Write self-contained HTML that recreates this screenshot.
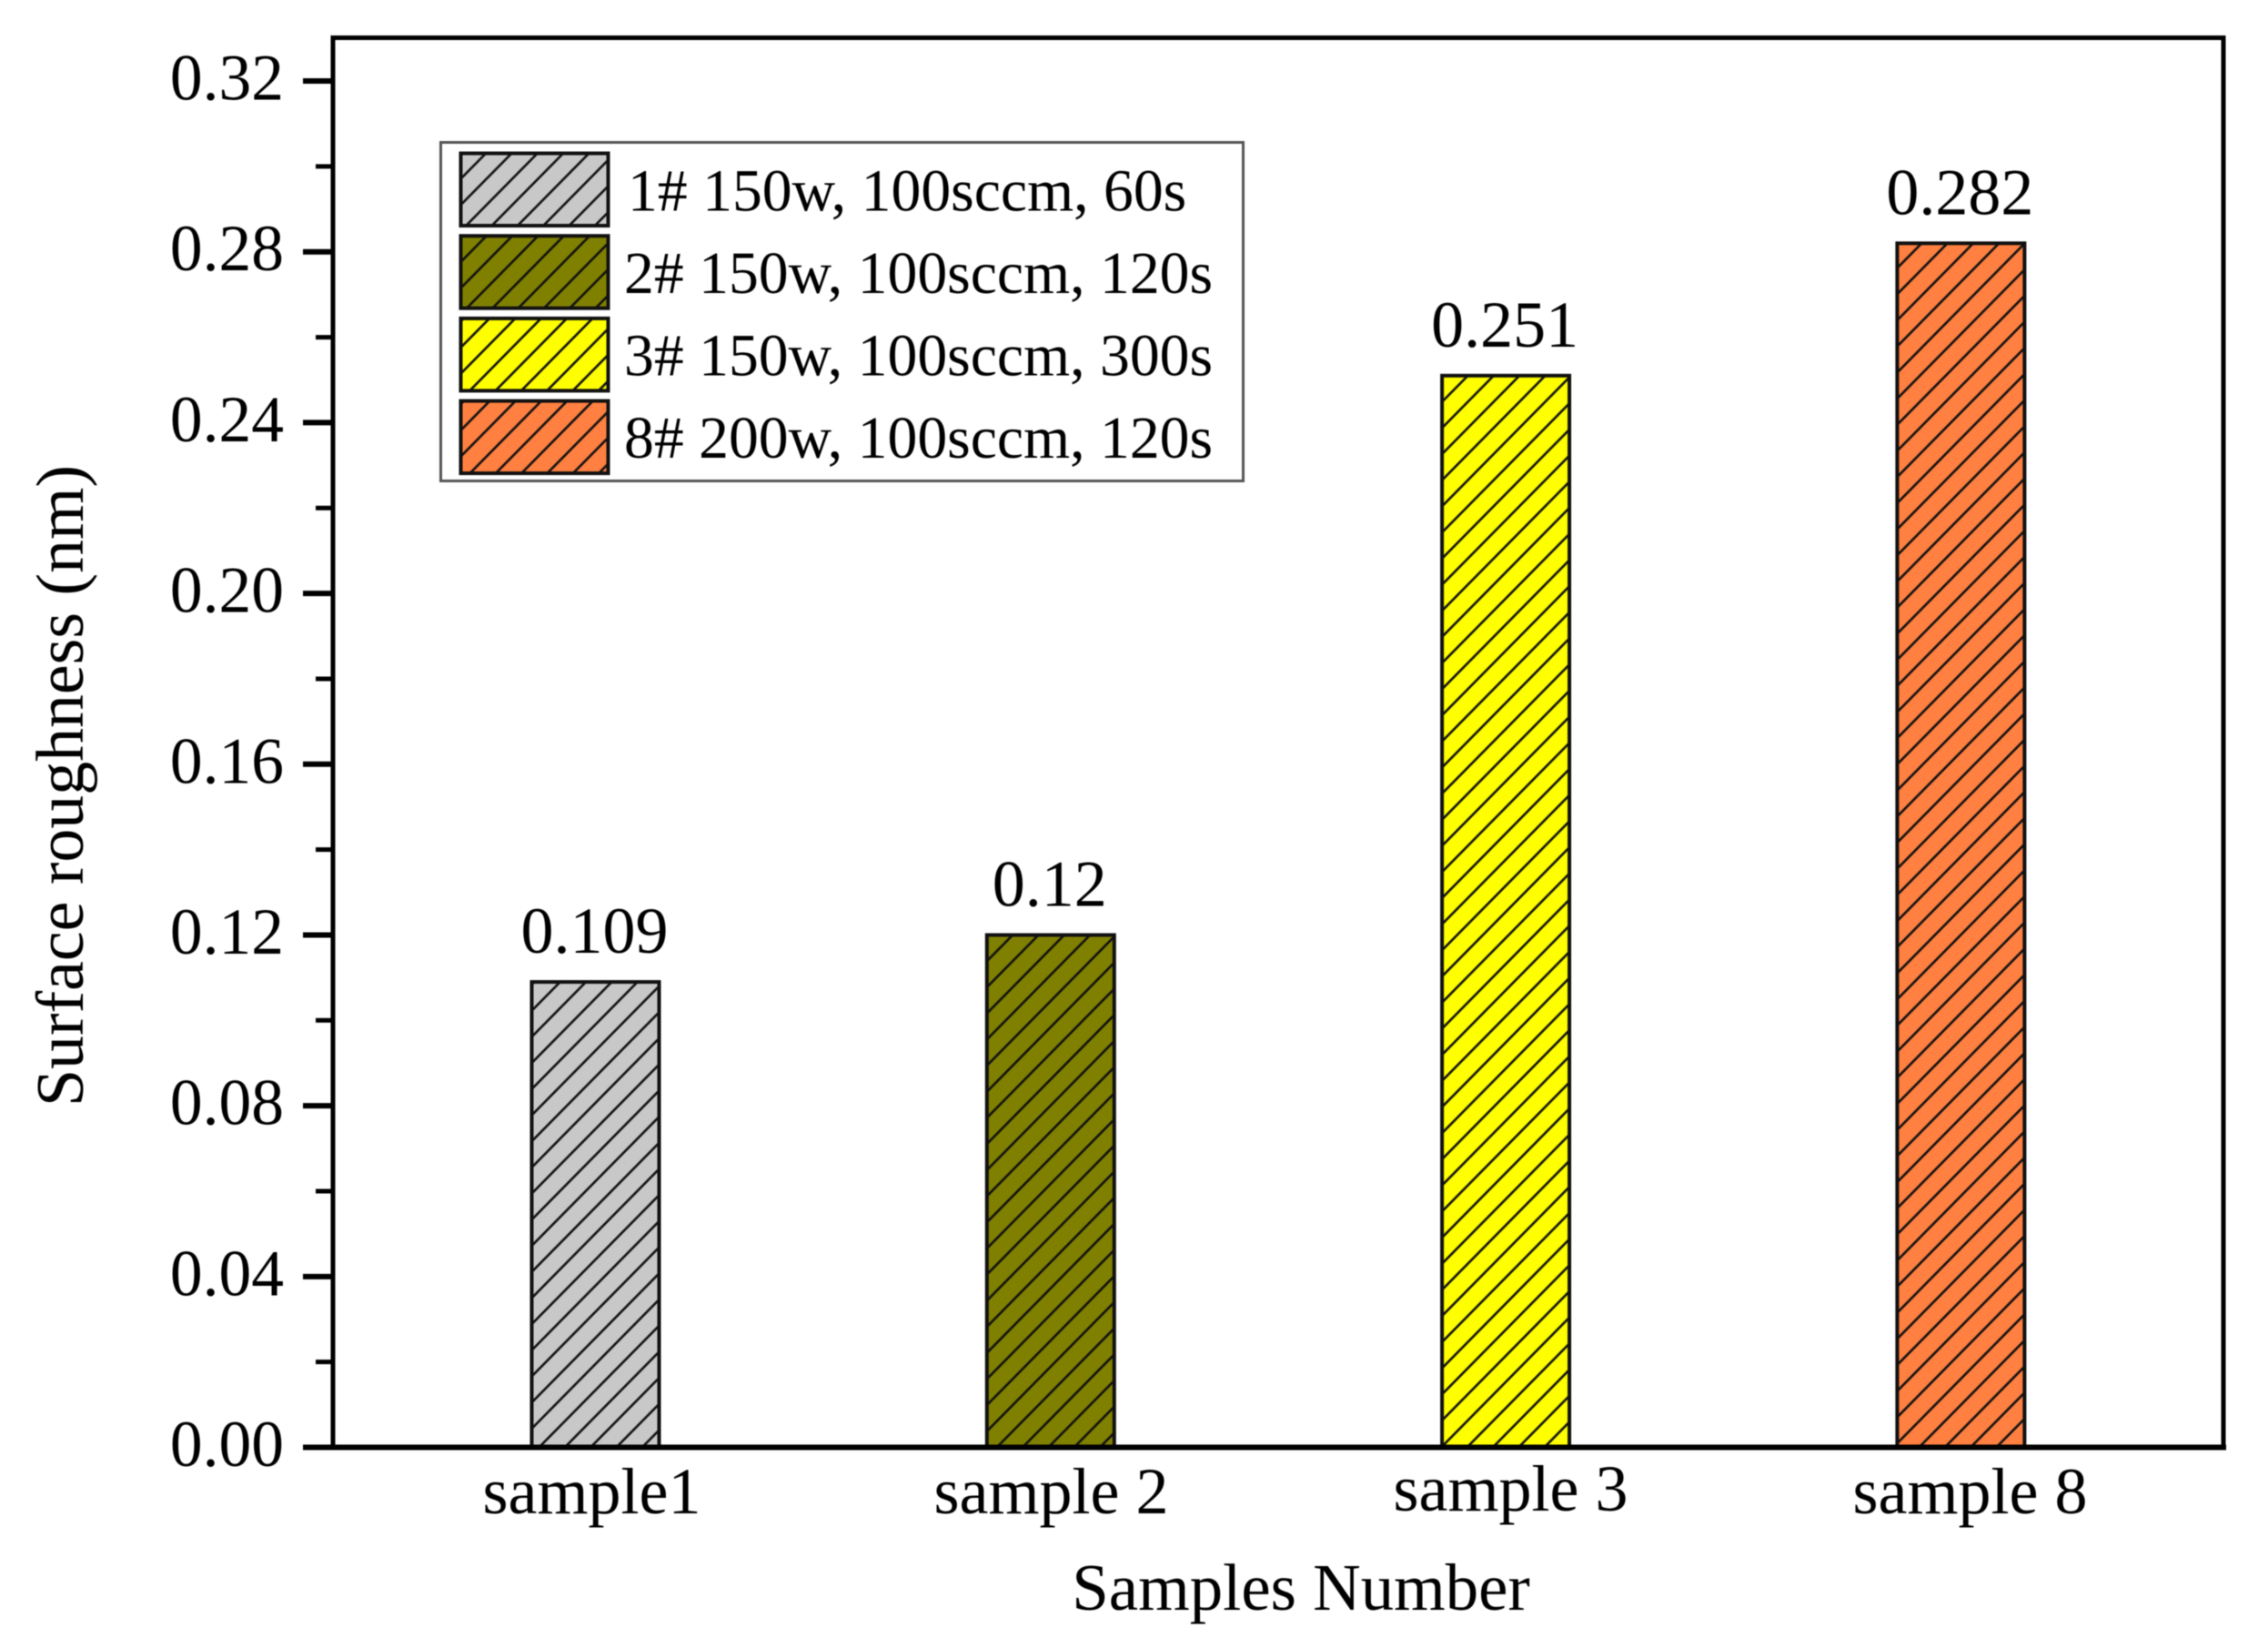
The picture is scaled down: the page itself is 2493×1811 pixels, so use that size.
<!DOCTYPE html>
<html lang="en">
<head>
<meta charset="utf-8">
<title>Surface roughness by sample</title>
<style>
html,body{margin:0;padding:0;background:#fff;width:2493px;height:1811px;overflow:hidden}
#chart{display:block;filter:blur(0.6px)}
text{font-family:"Liberation Serif","Times New Roman",serif;fill:#000}
</style>
</head>
<body>
<svg id="chart" xmlns="http://www.w3.org/2000/svg" width="2493" height="1811" viewBox="0 0 2493 1811">
  <defs id="defs"></defs>
  <rect x="0" y="0" width="2493" height="1811" fill="#fff"/>
  <g id="bars"></g>
  <g id="labels"></g>
  <g id="ticks"></g>
  <g id="xlabels"></g>
  <rect x="366" y="41.5" width="2078" height="1549" fill="none" stroke="#000" stroke-width="5"/>
  <line x1="333" y1="1590.5" x2="2447" y2="1590.5" stroke="#000" stroke-width="6"/>
  <text x="1430" y="1769" font-size="72.8" text-anchor="middle">Samples Number</text>
  <text transform="translate(91,863.5) rotate(-90)" font-size="73.8" text-anchor="middle">Surface roughness (nm)</text>
  <g id="legend">
    <rect x="484.5" y="156.5" width="882" height="372" fill="#fff" stroke="#555" stroke-width="3"/>
  </g>
</svg>
<script>
const categories = ['sample1', 'sample 2', 'sample 3', 'sample 8'];
const roughness = [0.109, 0.12, 0.251, 0.282];
const valueLabels = ['0.109', '0.12', '0.251', '0.282'];
const barColors = ['#c8c8c8', '#808000', '#ffff00', '#ff8040'];
const legendTexts = ['1# 150w, 100sccm, 60s', '2# 150w, 100sccm, 120s', '3# 150w, 100sccm, 300s', '8# 200w, 100sccm, 120s'];
const majorTicks = [0, 0.04, 0.08, 0.12, 0.16, 0.2, 0.24, 0.28, 0.32];
const minorTicks = [0.02, 0.06, 0.1, 0.14, 0.18, 0.22, 0.26, 0.3];

const NS = 'http://www.w3.org/2000/svg';
const yScale = function (v) { return 1590.5 - v * 4692; };
const barCenter = function (i) { return 654.5 + 500.3 * i; };
const labelCenter = function (i) { return 650.5 + 505 * i; };
const BAR_W = 140;
const PX = 28.33;
const PY = 28.7;

function mk(tag, attrs, parent, text) {
  const el = document.createElementNS(NS, tag);
  for (const k in attrs) el.setAttribute(k, attrs[k]);
  if (text !== undefined) el.textContent = text;
  parent.appendChild(el);
  return el;
}

function hatchPattern(id, color, ax, ay) {
  const defs = document.getElementById('defs');
  const p = mk('pattern', { id: id, patternUnits: 'userSpaceOnUse', width: PX, height: PY, patternTransform: 'translate(' + ax + ',' + ay + ')' }, defs);
  mk('rect', { x: 0, y: 0, width: PX, height: PY, fill: color }, p);
  const d = 'M' + (-PX / 4) + ',' + (PY / 4) + 'L' + (PX / 4) + ',' + (-PY / 4) +
    'M' + (-PX * 0.05) + ',' + (PY * 1.05) + 'L' + (PX * 1.05) + ',' + (-PY * 0.05) +
    'M' + (PX * 0.75) + ',' + (PY * 1.25) + 'L' + (PX * 1.25) + ',' + (PY * 0.75);
  mk('path', { d: d, stroke: '#111', 'stroke-width': 2.6, fill: 'none' }, p);
}

const barsG = document.getElementById('bars');
const labelsG = document.getElementById('labels');
const xLabelsG = document.getElementById('xlabels');
const barHatchAnchorX = function (i) { return i === 0 ? 623.3 : i === 1 ? 1140 : i === 2 ? 1670 : 2140; };
const barHatchAnchorY = function (i) { return i === 0 ? 1588 : i === 1 ? 1029 : i === 2 ? 413 : 268; };
categories.forEach(function (c, i) {
  hatchPattern('bar-hatch-' + i, barColors[i], barHatchAnchorX(i), barHatchAnchorY(i));
  const top = yScale(roughness[i]);
  const bar = mk('rect', { x: barCenter(i) - BAR_W / 2, y: top, width: BAR_W, height: 1590.5 - top, fill: 'url(#bar-hatch-' + i + ')', stroke: '#111', 'stroke-width': 4 }, barsG);
  
  
  const val = mk('text', { x: barCenter(i) - 1, y: top - 32, 'font-size': 72, 'text-anchor': 'middle' }, labelsG, valueLabels[i]);
  
  
  const lab = mk('text', { x: labelCenter(i), y: i === 2 ? 1660 : 1663, 'font-size': 72, 'text-anchor': 'middle' }, xLabelsG, c);
  
  
});

const ticksG = document.getElementById('ticks');
majorTicks.forEach(function (v) {
  const y = yScale(v);
  const t = mk('line', { x1: 333, x2: 367, y1: y, y2: y, stroke: '#000', 'stroke-width': 6 }, ticksG);
  
  
  const l = mk('text', { x: 312, y: y + 20.5, 'font-size': 71.5, 'text-anchor': 'end' }, ticksG, v.toFixed(2));
  
  
});
minorTicks.forEach(function (v) {
  const y = yScale(v);
  const t = mk('line', { x1: 347, x2: 367, y1: y, y2: y, stroke: '#000', 'stroke-width': 5 }, ticksG);
  
  
});

const legendG = document.getElementById('legend');
const swatchAnchorX = function (i) { return i < 2 ? 533.3 : 536; };
const swatchAnchorY = function (i) { return i === 0 ? 169.3 : i === 1 ? 260.7 : i === 2 ? 352 : 443; };
legendTexts.forEach(function (txt, i) {
  hatchPattern('legend-hatch-' + i, barColors[i], swatchAnchorX(i), swatchAnchorY(i));
  const rowTop = 168.5 + i * 90.7;
  const sw = mk('rect', { x: 506.5, y: rowTop, width: 162, height: 79.5, fill: 'url(#legend-hatch-' + i + ')', stroke: '#111', 'stroke-width': 4 }, legendG);
  
  
  const t = mk('text', { x: i === 0 ? 690 : 686, y: 231.5 + i * 90.5, 'font-size': 65.7 }, legendG, txt);
  
  
});
</script>
</body>
</html>
